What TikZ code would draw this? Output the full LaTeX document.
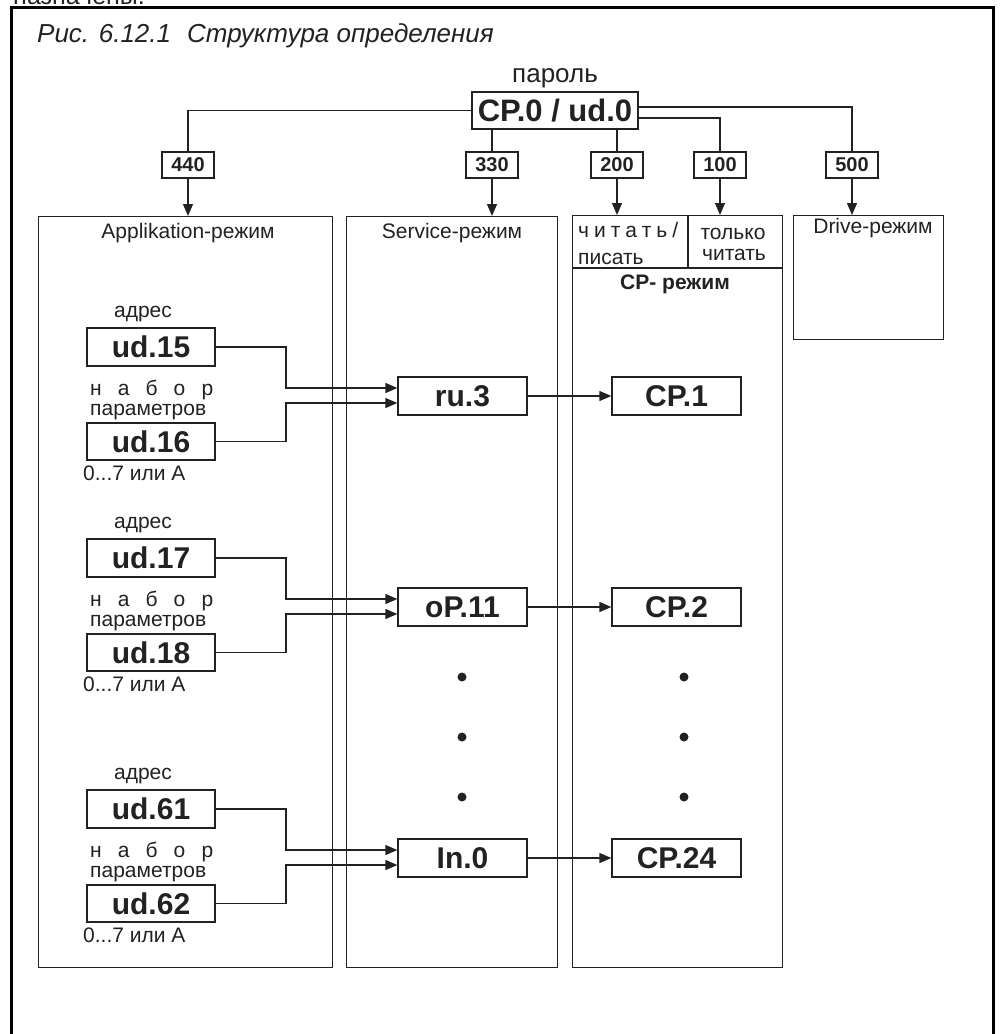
\documentclass[tikz,border=0pt]{standalone}
\usepackage{fontspec}
\setmainfont{Liberation Sans}
\usetikzlibrary{arrows.meta}
\definecolor{ink}{HTML}{222222}
\newcommand\fsz[1]{\fontsize{#1}{#1}\selectfont}
\begin{document}
\begin{tikzpicture}[x=1pt,y=-1pt,
  wire/.style={draw=ink, line width=1.3pt},
  conn/.style={wire, -{Triangle[length=12pt,width=10pt]}},
  modebox/.style={draw=ink, line width=1.3pt, inner sep=0, anchor=north west},
  valbox/.style={draw=ink, line width=1.3pt, inner sep=0, minimum width=129pt, minimum height=38pt, font=\fsz{30}\bfseries, text=ink},
  codebox/.style={draw=ink, line width=1.3pt, inner sep=0, minimum width=52pt, minimum height=26pt, font=\fsz{20}\bfseries, text=ink},
  lbl/.style={inner sep=0, font=\fsz{21}, text=ink},
  dot/.style={fill=ink}]
\useasboundingbox (0,0) rectangle (1001,1034);
\clip (0,0) rectangle (1001,1034);
\fill[white] (0,0) rectangle (1001,1034);
% outer frame
\draw[line width=3pt, black] (11,1100) -- (11,7.5) -- (993,7.5) -- (993,1100);
\node[lbl, anchor=base west, font=\fsz{25}] (prev) at (13,4) {\makebox[137pt][s]{назначены.}};
% title
\node[lbl, anchor=base west, font=\fsz{26}\itshape] (title) at (37,42) {Рис. 6.12.1\hspace{16pt}Структура определения};
% password
\node[lbl, anchor=base, font=\fsz{26}] (pw) at (555,82) {пароль};
\node[draw=ink, line width=1.3pt, inner sep=0, minimum width=166pt, minimum height=37pt, font=\fsz{31}\bfseries, text=ink] (cp0) at (555,110.5) {CP.0 / ud.0};
% code boxes
\node[codebox] (b440) at (188,165) {440};
\node[codebox] (b330) at (492,165) {330};
\node[codebox] (b200) at (617,165) {200};
\node[codebox] (b100) at (720,165) {100};
\node[codebox] (b500) at (852,165) {500};
% mode boxes
\node[modebox, minimum width=294pt, minimum height=751pt] (app) at (38,216) {};
\node[modebox, minimum width=211pt, minimum height=751pt] (svc) at (346,216) {};
\node[modebox, minimum width=210pt, minimum height=752pt] (cpm) at (572,215) {};
\node[modebox, minimum width=150pt, minimum height=124pt] (drv) at (793,215) {};
\draw[wire] (cpm.west |- 0,268) -- (cpm.east |- 0,268);
\draw[wire] (688,215) -- (688,268);
% mode titles
\node[lbl, anchor=base] (tapp) at (188,238) {Applikation-режим};
\node[lbl, anchor=base] (tsvc) at (452,238) {Service-режим};
\node[lbl, anchor=base] (tdrv) at (873,233) {Drive-режим};
\node[lbl, anchor=base west] (trw1) at (578,237) {\makebox[100pt][s]{ч\hfill и\hfill т\hfill а\hfill т\hfill ь\hfill /}};
\node[lbl, anchor=base west] (trw2) at (578,264) {писать};
\node[lbl, anchor=base] (tro1) at (733,239) {только};
\node[lbl, anchor=base] (tro2) at (734,260) {читать};
\node[lbl, anchor=base, font=\fsz{21}\bfseries] (tcp) at (675,289) {CP- режим};
% top wiring
\draw[wire] (cp0.west) -| (b440.north);
\draw[conn] (b440.south) -- (b440.south |- app.north);
\draw[wire] (b330.north |- cp0.south) -- (b330.north);
\draw[conn] (b330.south) -- (b330.south |- svc.north);
\draw[wire] (b200.north |- cp0.south) -- (b200.north);
\draw[conn] (b200.south) -- (b200.south |- cpm.north);
\draw[wire] (cp0.east |- 0,118) -| (b100.north);
\draw[conn] (b100.south) -- (b100.south |- cpm.north);
\draw[wire] (cp0.east |- 0,107) -| (b500.north);
\draw[conn] (b500.south) -- (b500.south |- drv.north);
% groups
\foreach \o/\a/\b/\s/\c/\i in {0/ud.15/ud.16/ru.3/CP.1/1, 211/ud.17/ud.18/oP.11/CP.2/2, 462/ud.61/ud.62/In.0/CP.24/3}{
  \node[lbl, anchor=base] (adr\i) at (143,{317+\o}) {адрес};
  \node[valbox, minimum width=128pt] (ua\i) at (151,{347+\o}) {\a};
  \node[lbl, anchor=base west] (nab\i) at (90,{395+\o}) {\makebox[123pt][s]{н\hfill а\hfill б\hfill о\hfill р}};
  \node[lbl, anchor=base west] (par\i) at (90,{415+\o}) {параметров};
  \node[valbox, minimum width=128pt, minimum height=37pt] (ub\i) at (151,{441.5+\o}) {\b};
  \node[lbl, anchor=base west] (rng\i) at (83,{480+\o}) {0...7 или А};
  \node[valbox] (sv\i) at (462.5,{396+\o}) {\s};
  \node[valbox] (cp\i) at (676.5,{396+\o}) {\c};
  \coordinate (ja\i) at (286,{388+\o});
  \coordinate (jb\i) at (286,{403+\o});
  \draw[conn] (ua\i.east) -| (ja\i) -- (ja\i -| sv\i.west);
  \draw[conn] (ub\i.east) -| (jb\i) -- (jb\i -| sv\i.west);
  \draw[conn] (sv\i.east) -- (cp\i.west);
}
% continuation dots
\foreach \y in {677,737,797}{
  \fill[dot] (462,\y) circle (4.5pt);
  \fill[dot] (684,\y) circle (4.5pt);
}
\end{tikzpicture}
\end{document}
